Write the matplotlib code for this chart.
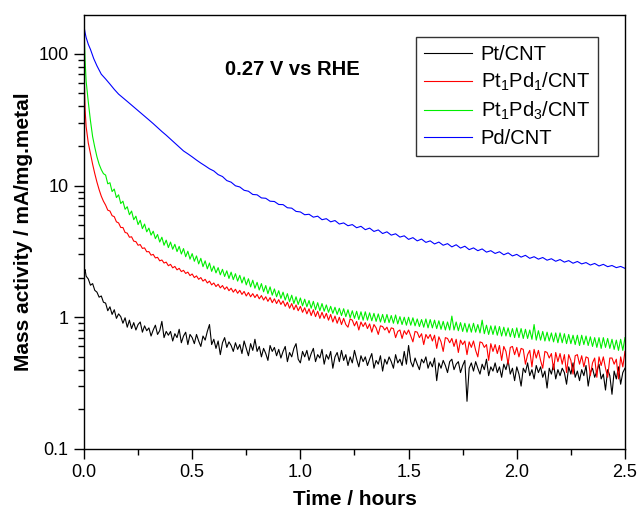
import numpy as np
import matplotlib
matplotlib.use("Agg")
import matplotlib.pyplot as plt
from matplotlib.ticker import LogLocator, FixedLocator, NullFormatter, FuncFormatter

plt.rcParams['font.family'] = ['Liberation Sans', 'DejaVu Sans']
plt.rcParams['mathtext.default'] = 'regular'

# sample times (hours)
t_early = [0.0, 0.002, 0.005, 0.01, 0.02, 0.03, 0.04, 0.05, 0.06, 0.07, 0.08, 0.09]
t_fine = np.round(np.arange(0.10, 2.5001, 0.01), 2)     # noisy series
t_pd_early = [0.0, 0.002, 0.005, 0.01, 0.02, 0.03, 0.045, 0.06, 0.08]
t_pd = np.round(np.arange(0.10, 2.5001, 0.02), 2)       # Pd/CNT

# Pt/CNT
pt_early = [2.45, 2.25, 2.3, 2.05, 1.95, 1.75, 1.8, 1.6, 1.55, 1.42, 1.45, 1.30]
pt_fine = [1.28, 1.12, 1.20, 1.05, 1.14, 0.98, 1.06, 1.01, 0.90, 0.99,
           0.84, 0.95, 0.82, 0.91, 0.80, 0.88, 0.92, 0.77, 0.86, 0.79,
           0.83, 0.72, 0.80, 0.87, 0.74, 0.79, 0.93, 0.70, 0.78, 0.73,
           0.78, 0.66, 0.75, 0.70, 0.81, 0.64, 0.72, 0.77, 0.62, 0.74,
           0.70, 0.63, 0.74, 0.66, 0.60, 0.72, 0.67, 0.78, 0.88, 0.62,
           0.68, 0.58, 0.66, 0.52, 0.64, 0.70, 0.59, 0.65, 0.61, 0.55,
           0.64, 0.57, 0.62, 0.53, 0.66, 0.58, 0.51, 0.63, 0.56, 0.68,
           0.55, 0.60, 0.50, 0.58, 0.53, 0.47, 0.61, 0.55, 0.59, 0.51,
           0.57, 0.49, 0.55, 0.60, 0.46, 0.54, 0.50, 0.58, 0.63, 0.48,
           0.45, 0.55, 0.50, 0.56, 0.47, 0.53, 0.58, 0.46, 0.52, 0.49,
           0.57, 0.44, 0.52, 0.48, 0.55, 0.41, 0.50, 0.54, 0.46, 0.56,
           0.47, 0.52, 0.43, 0.50, 0.45, 0.56, 0.48, 0.42, 0.51, 0.46,
           0.50, 0.43, 0.48, 0.53, 0.41, 0.47, 0.44, 0.51, 0.39, 0.48,
           0.44, 0.50, 0.46, 0.41, 0.52, 0.45, 0.48, 0.43, 0.55, 0.44,
           0.61, 0.46, 0.42, 0.49, 0.44, 0.40, 0.48, 0.45, 0.50, 0.41,
           0.46, 0.42, 0.49, 0.33, 0.45, 0.41, 0.47, 0.43, 0.38, 0.46,
           0.48, 0.40, 0.44, 0.46, 0.38, 0.43, 0.47, 0.23, 0.41, 0.45,
           0.39, 0.46, 0.41, 0.37, 0.44, 0.40, 0.48, 0.36, 0.42, 0.39,
           0.45, 0.38, 0.42, 0.35, 0.44, 0.40, 0.47, 0.37, 0.41, 0.33,
           0.42, 0.37, 0.30, 0.41, 0.38, 0.45, 0.36, 0.40, 0.34, 0.43,
           0.38, 0.42, 0.35, 0.39, 0.29, 0.41, 0.37, 0.44, 0.34, 0.40,
           0.36, 0.41, 0.38, 0.31, 0.42, 0.37, 0.45, 0.35, 0.39, 0.33,
           0.40, 0.36, 0.43, 0.30, 0.38, 0.41, 0.35, 0.39, 0.44, 0.34,
           0.37, 0.28, 0.40, 0.36, 0.26, 0.39, 0.34, 0.42, 0.31, 0.38,
           0.41]

# Pt1Pd1/CNT
ptpd1_early = [125, 60, 38, 28, 21, 17.5, 14.5, 12.3, 10.6, 9.3, 8.3, 7.6]
ptpd1_fine = [7.1, 6.5, 6.4, 5.9, 5.8, 5.3, 5.2, 4.8, 4.8, 4.4,
              4.35, 4.05, 4.08, 3.78, 3.75, 3.52, 3.56, 3.33, 3.36, 3.14,
              3.15, 2.96, 3.0, 2.82, 2.85, 2.68, 2.72, 2.58, 2.62, 2.46,
              2.52, 2.37, 2.43, 2.29, 2.35, 2.22, 2.27, 2.15, 2.2, 2.07,
              2.13, 2.0, 2.06, 1.94, 2.0, 1.88, 1.94, 1.82, 1.88, 1.76,
              1.82, 1.71, 1.78, 1.67, 1.74, 1.63, 1.70, 1.59, 1.66, 1.55,
              1.63, 1.52, 1.60, 1.49, 1.57, 1.45, 1.54, 1.43, 1.51, 1.41,
              1.49, 1.38, 1.46, 1.35, 1.43, 1.32, 1.41, 1.29, 1.38, 1.27,
              1.36, 1.25, 1.33, 1.21, 1.30, 1.17, 1.27, 1.14, 1.24, 1.12,
              1.21, 1.09, 1.18, 1.06, 1.16, 1.03, 1.14, 1.01, 1.11, 0.98,
              1.09, 0.98, 1.07, 0.95, 1.05, 0.92, 1.02, 0.90, 1.00, 0.88,
              0.98, 0.88, 0.84, 0.97, 0.95, 0.86, 0.93, 0.80, 0.92, 0.85,
              0.91, 0.82, 0.89, 0.77, 0.88, 0.83, 0.74, 0.86, 0.85, 0.80,
              0.84, 0.76, 0.83, 0.82, 0.70, 0.78, 0.80, 0.69, 0.79, 0.74,
              0.80, 0.72, 0.65, 0.78, 0.77, 0.70, 0.75, 0.62, 0.74, 0.69,
              0.74, 0.66, 0.73, 0.58, 0.71, 0.65, 0.55, 0.70, 0.69, 0.64,
              0.69, 0.60, 0.68, 0.54, 0.67, 0.62, 0.66, 0.52, 0.65, 0.59,
              0.66, 0.56, 0.50, 0.65, 0.64, 0.59, 0.62, 0.47, 0.63, 0.55,
              0.62, 0.53, 0.61, 0.47, 0.60, 0.55, 0.44, 0.59, 0.60, 0.52,
              0.59, 0.50, 0.58, 0.57, 0.44, 0.52, 0.56, 0.42, 0.57, 0.49,
              0.56, 0.47, 0.41, 0.55, 0.54, 0.49, 0.53, 0.40, 0.54, 0.46,
              0.53, 0.44, 0.52, 0.38, 0.52, 0.47, 0.37, 0.51, 0.52, 0.44,
              0.51, 0.42, 0.50, 0.49, 0.36, 0.45, 0.49, 0.35, 0.50, 0.43,
              0.50, 0.41, 0.35, 0.49, 0.49, 0.44, 0.48, 0.34, 0.50, 0.42,
              0.55]

# Pt1Pd3/CNT
ptpd3_early = [200, 130, 90, 62, 43, 31, 23.5, 19.5, 16.5, 14.5, 13.2, 12.3]
ptpd3_fine = [12.0, 10.3, 10.5, 9.0, 9.4, 8.1, 8.5, 7.3, 7.6, 6.6,
              6.9, 6.0, 6.4, 5.5, 5.85, 5.05, 5.45, 4.7, 5.1, 4.45,
              4.75, 4.2, 4.5, 3.95, 4.25, 3.72, 4.05, 3.52, 3.85, 3.38,
              3.72, 3.28, 3.58, 3.15, 3.45, 3.02, 3.32, 2.88, 3.17, 2.76,
              3.04, 2.66, 2.92, 2.54, 2.80, 2.42, 2.68, 2.33, 2.58, 2.23,
              2.45, 2.17, 2.38, 2.10, 2.31, 2.04, 2.25, 1.97, 2.20, 1.93,
              2.14, 1.88, 2.08, 1.82, 2.02, 1.76, 1.96, 1.70, 1.91, 1.66,
              1.84, 1.61, 1.80, 1.56, 1.74, 1.51, 1.70, 1.47, 1.64, 1.43,
              1.59, 1.39, 1.55, 1.35, 1.51, 1.31, 1.47, 1.27, 1.43, 1.25,
              1.40, 1.22, 1.37, 1.20, 1.34, 1.17, 1.32, 1.14, 1.29, 1.12,
              1.27, 1.11, 1.24, 1.09, 1.21, 1.07, 1.19, 1.05, 1.17, 1.03,
              1.16, 1.01, 1.14, 0.99, 1.12, 0.98, 1.11, 0.96, 1.10, 0.95,
              1.10, 0.95, 1.08, 0.94, 1.07, 0.93, 1.06, 0.92, 1.05, 0.91,
              1.05, 0.91, 1.03, 0.90, 1.04, 0.89, 1.01, 0.88, 1.00, 0.87,
              1.00, 0.87, 0.99, 0.86, 0.97, 0.85, 0.96, 0.84, 0.97, 0.83,
              0.96, 0.83, 0.95, 0.82, 0.94, 0.81, 0.93, 0.80, 0.92, 0.80,
              1.02, 0.80, 0.92, 0.79, 0.91, 0.78, 0.90, 0.77, 0.89, 0.77,
              0.90, 0.77, 0.88, 0.76, 0.95, 0.75, 0.87, 0.74, 0.86, 0.74,
              0.86, 0.73, 0.85, 0.72, 0.84, 0.72, 0.83, 0.71, 0.82, 0.70,
              0.83, 0.70, 0.82, 0.69, 0.81, 0.69, 0.80, 0.68, 0.88, 0.67,
              0.79, 0.67, 0.78, 0.66, 0.77, 0.66, 0.76, 0.65, 0.76, 0.64,
              0.76, 0.64, 0.75, 0.63, 0.74, 0.63, 0.73, 0.62, 0.73, 0.61,
              0.73, 0.62, 0.72, 0.61, 0.71, 0.60, 0.70, 0.59, 0.70, 0.58,
              0.70, 0.59, 0.69, 0.58, 0.68, 0.57, 0.67, 0.56, 0.68, 0.56,
              0.70]

# Pd/CNT
pd_early = [165, 155, 145, 133, 118, 108, 92, 81, 70]
pd_main = [64.4, 58.9, 53.7, 49.4, 46.4, 43.5, 40.8, 38.3, 35.9, 33.6,
           31.5, 29.5, 27.5, 25.7, 24.1, 22.5, 21.0, 19.6, 18.3, 17.4,
           16.5, 15.6, 14.8, 14.1, 13.4, 12.9, 12.1, 11.7, 10.9, 10.6,
           9.95, 9.75, 9.2, 9.05, 8.55, 8.5, 8.05, 8.0, 7.6, 7.56,
           7.18, 7.16, 6.78, 6.73, 6.36, 6.3, 6.0, 6.05, 5.75, 5.85,
           5.5, 5.6, 5.3, 5.42, 5.1, 5.2, 4.95, 5.05, 4.78, 4.9,
           4.62, 4.75, 4.48, 4.6, 4.32, 4.45, 4.2, 4.3, 4.06, 4.15,
           3.9, 4.02, 3.8, 3.92, 3.7, 3.8, 3.6, 3.72, 3.52, 3.62,
           3.42, 3.55, 3.35, 3.46, 3.26, 3.36, 3.2, 3.3, 3.12, 3.2,
           3.05, 3.14, 2.98, 3.08, 2.92, 3.0, 2.86, 2.95, 2.8, 2.88,
           2.76, 2.84, 2.71, 2.78, 2.66, 2.74, 2.62, 2.69, 2.57, 2.65,
           2.54, 2.6, 2.49, 2.56, 2.45, 2.52, 2.42, 2.47, 2.38, 2.43,
           2.35]

labels = ['Pt/CNT', 'Pt$_1$Pd$_1$/CNT', 'Pt$_1$Pd$_3$/CNT', 'Pd/CNT']
colors = ['black', '#ff0000', '#00ee00', '#0000ff']

fig = plt.figure(figsize=(6.41, 5.09), dpi=100)
ax = fig.add_axes([0.131, 0.118, 0.844, 0.8525])

t_noisy = np.concatenate([t_early, t_fine])
t_blue = np.concatenate([t_pd_early, t_pd])
curves = [(t_noisy, pt_early + pt_fine),
          (t_noisy, ptpd1_early + ptpd1_fine),
          (t_noisy, ptpd3_early + ptpd3_fine),
          (t_blue, pd_early + pd_main)]
for (tt, yy), lab, c in zip(curves, labels, colors):
    ax.plot(tt, yy, color=c, lw=0.8, label=lab)

ax.set_yscale('log')
ax.set_xlim(0, 2.5)
ax.set_ylim(0.1, 197)

ax.set_xticks([0, 0.5, 1.0, 1.5, 2.0, 2.5])
ax.xaxis.set_minor_locator(FixedLocator([0.25, 0.75, 1.25, 1.75, 2.25]))
ax.xaxis.set_major_formatter(FuncFormatter(lambda v, p: f"{v:.1f}"))
ax.yaxis.set_major_locator(FixedLocator([0.1, 1, 10, 100]))
ax.yaxis.set_major_formatter(FuncFormatter(lambda v, p: f"{v:g}"))
ax.yaxis.set_minor_locator(LogLocator(base=10, subs=np.arange(2, 10)))
ax.yaxis.set_minor_formatter(NullFormatter())

ax.tick_params(which='major', direction='out', length=7, width=1,
               labelsize=13, top=False, right=False, pad=4)
ax.tick_params(which='minor', direction='out', length=4, width=1,
               top=False, right=False)
for s in ax.spines.values():
    s.set_linewidth(1)

ax.set_xlabel('Time / hours', fontsize=15, fontweight='bold', labelpad=6)
ax.set_ylabel('Mass activity / mA/mg.metal', fontsize=15, fontweight='bold', labelpad=4)

ax.text(0.385, 0.875, '0.27 V vs RHE', transform=ax.transAxes, fontsize=14.5,
        fontweight='bold', ha='center', va='center')

leg = ax.legend(loc='upper right', bbox_to_anchor=(0.95, 0.949), fontsize=14.5,
                frameon=True, fancybox=False, edgecolor='black', handlelength=2.4,
                handletextpad=0.4, labelspacing=0.33, borderpad=0.4, borderaxespad=0)
leg.get_frame().set_linewidth(1)

fig.savefig('out.png', dpi=100)
